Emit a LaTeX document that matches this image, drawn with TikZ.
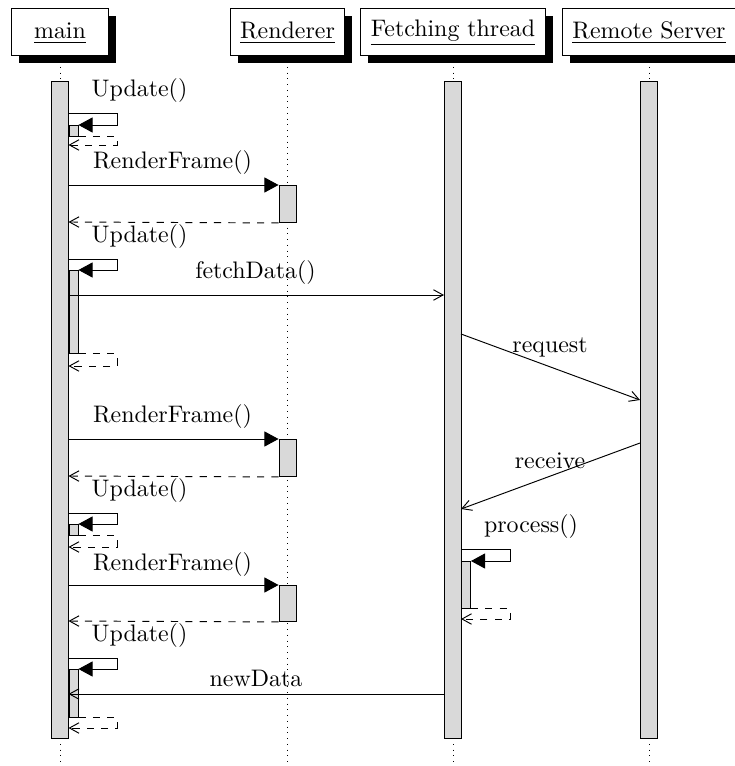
\documentclass[tikz,border=0pt]{standalone}
\usetikzlibrary{arrows.meta,shadows}
% one drawing unit
\newcommand{\pxu}{0.4184pt}
\begin{document}
\begin{tikzpicture}[x=\pxu, y=-\pxu,
  header/.style={draw, fill=white, minimum height={47*\pxu}, inner xsep={10*\pxu}, inner ysep=0pt,
    text height=8pt,
    drop shadow={shadow xshift={7.5*\pxu}, shadow yshift={-8.5*\pxu}, opacity=1, fill=black}},
  lifeline/.style={dotted},
  actbar/.style={draw, fill=gray!30, inner sep=0pt, minimum width={17*\pxu}},
  nestbar/.style={draw, fill=gray!30, inner sep=0pt, minimum width={9*\pxu}, anchor=north west},
  callarrow/.style={-{Triangle[length=5.9pt,width=6.3pt]}},
  msgarrow/.style={-{Straight Barb[length=4pt,width=4.4pt]}},
  retarrow/.style={dashed, -{Straight Barb[length=4pt,width=4.4pt]}},
  lbl/.style={inner sep=0pt}]
\useasboundingbox (0,0) rectangle (734,766);

% participants
\node[header, minimum width={97*\pxu}] (main) at (60,31.5) {\underline{main}};
\node[header] (rend) at (287.5,31.5) {\underline{Renderer}};
\node[header] (fetch) at (453,31.5) {\underline{Fetching thread}};
\node[header] (remote) at (649,31.5) {\underline{Remote Server}};

% lifelines
\coordinate (mainend) at (60,762);
\coordinate (rendend) at (287.5,762);
\coordinate (fetchend) at (453,762);
\coordinate (remoteend) at (649,762);
\draw[lifeline] (main.south) -- (mainend);
\draw[lifeline] (rend.south) -- (rendend);
\draw[lifeline] (fetch.south) -- (fetchend);
\draw[lifeline] (remote.south) -- (remoteend);

% thread activations
\node[actbar, minimum height={657*\pxu}, anchor=north] (mainbar) at (60,81) {};
\node[actbar, minimum height={657*\pxu}, anchor=north] (fetchbar) at (452.5,81) {};
\node[actbar, minimum height={657*\pxu}, anchor=north] (remotebar) at (648.5,81) {};

% nested activations
\node[nestbar, minimum height={11*\pxu}] (n1) at (68.5,125) {};
\node[nestbar, minimum height={83*\pxu}] (n2) at (68.5,270) {};
\node[nestbar, minimum height={11*\pxu}] (n3) at (68.5,524) {};
\node[nestbar, minimum height={48*\pxu}] (n4) at (68.5,669) {};
\node[nestbar, minimum height={47*\pxu}] (p1) at (461,561) {};

% renderer activations
\node[actbar, minimum height={37*\pxu}, anchor=north] (r1) at (287.5,185) {};
\node[actbar, minimum height={37*\pxu}, anchor=north] (r2) at (287.5,439) {};
\node[actbar, minimum height={36*\pxu}, anchor=north] (r3) at (287.5,585) {};

% Update() #1
\coordinate (u1a) at (68.5,113);
\coordinate (u1b) at (117,125);
\coordinate (u1c) at (117,145);
\coordinate (u1d) at (68.5,145);
\node[lbl] at (139.5,91) {Update()};
\draw[callarrow] (u1a) -| (u1b) -- (n1.north east);
\draw[retarrow] (n1.south east) -| (u1c) -- (u1d);

% RenderFrame() #1
\coordinate (rf1a) at (68.5,185);
\coordinate (rf1b) at (68.5,222);
\node[lbl] at (172.5,163) {RenderFrame()};
\draw[callarrow] (rf1a) -- (r1.north west);
\draw[retarrow] (r1.south west) -- (rf1b);

% Update() #2
\coordinate (u2a) at (68.5,259);
\coordinate (u2b) at (117,270);
\coordinate (u2c) at (117,366);
\coordinate (u2d) at (68.5,366);
\node[lbl] at (139.5,237) {Update()};
\draw[callarrow] (u2a) -| (u2b) -- (n2.north east);
\draw[retarrow] (n2.south east) -| (u2c) -- (u2d);

% fetchData()
\coordinate (fda) at (68.5,295);
\coordinate (fdb) at (444,295);
\node[lbl] at (255.5,273) {fetchData()};
\draw[msgarrow] (fda) -- (fdb);

% request
\coordinate (rqa) at (461,334);
\coordinate (rqb) at (640,400);
\node[lbl] at (550,347.5) {request};
\draw[msgarrow] (rqa) -- (rqb);

% RenderFrame() #2
\coordinate (rf2a) at (68.5,439);
\coordinate (rf2b) at (68.5,476);
\node[lbl] at (172.5,417) {RenderFrame()};
\draw[callarrow] (rf2a) -- (r2.north west);
\draw[retarrow] (r2.south west) -- (rf2b);

% receive
\coordinate (rca) at (640,443);
\coordinate (rcb) at (461,509);
\node[lbl] at (550,461) {receive};
\draw[msgarrow] (rca) -- (rcb);

% Update() #3
\coordinate (u3a) at (68.5,513);
\coordinate (u3b) at (117,524);
\coordinate (u3c) at (117,547);
\coordinate (u3d) at (68.5,547);
\node[lbl] at (139.5,491) {Update()};
\draw[callarrow] (u3a) -| (u3b) -- (n3.north east);
\draw[retarrow] (n3.south east) -| (u3c) -- (u3d);

% process()
\coordinate (pra) at (461,549);
\coordinate (prb) at (510,561);
\coordinate (prc) at (510,619);
\coordinate (prd) at (461,619);
\node[lbl] at (531,527) {process()};
\draw[callarrow] (pra) -| (prb) -- (p1.north east);
\draw[retarrow] (p1.south east) -| (prc) -- (prd);

% RenderFrame() #3
\coordinate (rf3a) at (68.5,585);
\coordinate (rf3b) at (68.5,621);
\node[lbl] at (172.5,565) {RenderFrame()};
\draw[callarrow] (rf3a) -- (r3.north west);
\draw[retarrow] (r3.south west) -- (rf3b);

% Update() #4
\coordinate (u4a) at (68.5,658);
\coordinate (u4b) at (117,669);
\coordinate (u4c) at (117,728);
\coordinate (u4d) at (68.5,728);
\node[lbl] at (139.5,636) {Update()};
\draw[callarrow] (u4a) -| (u4b) -- (n4.north east);
\draw[retarrow] (n4.south east) -| (u4c) -- (u4d);

% newData
\coordinate (nda) at (444,694);
\coordinate (ndb) at (68.5,694);
\node[lbl] at (256,678) {newData};
\draw[msgarrow] (nda) -- (ndb);
\end{tikzpicture}
\end{document}
